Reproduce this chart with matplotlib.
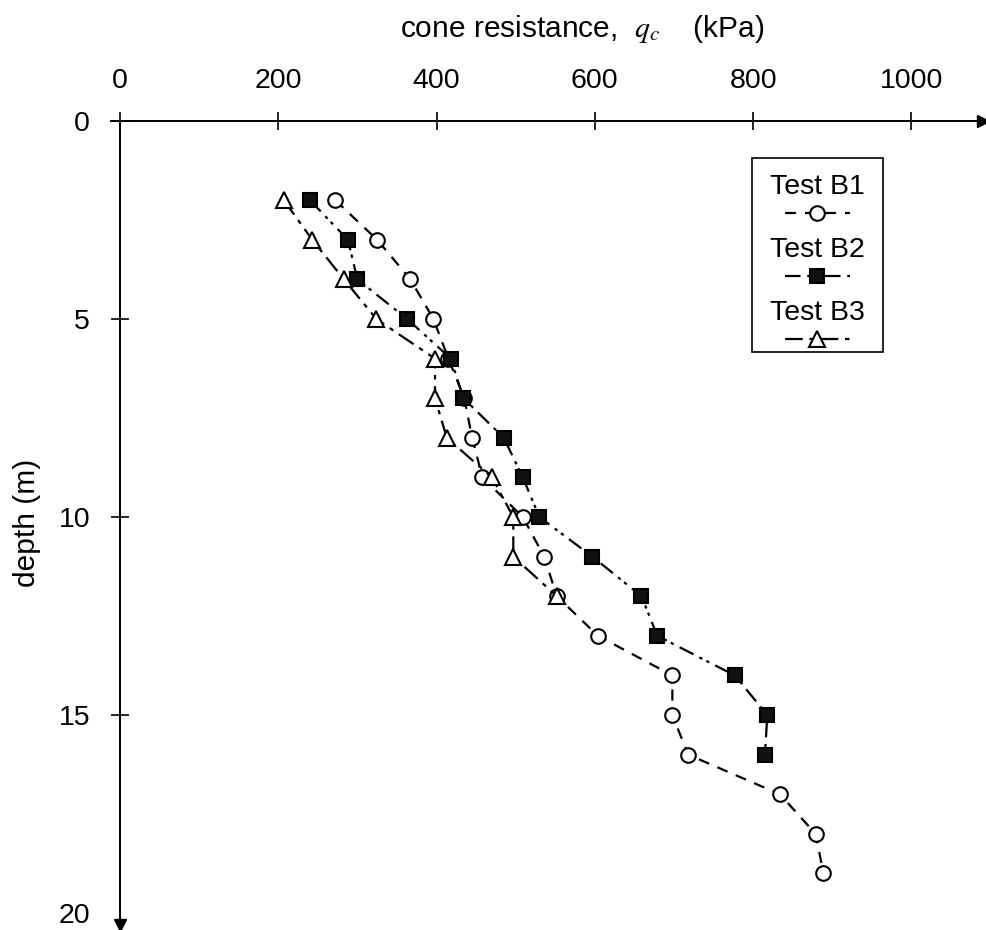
import matplotlib
matplotlib.use('Agg')
import matplotlib.pyplot as plt
from matplotlib.lines import Line2D
from matplotlib.patches import Rectangle

plt.rcParams['font.family'] = ['Liberation Sans', 'DejaVu Sans']
plt.rcParams['mathtext.fontset'] = 'stix'

# Dados: resistência de cone (kPa) por profundidade (m)
depth_b1 = [2, 3, 4, 5, 6, 7, 8, 9, 10, 11, 12, 13, 14, 15, 16, 17, 18, 19]
qc_b1 = [272, 325, 367, 396, 415, 435, 445, 458, 509, 536, 552, 604, 698, 698, 718, 834, 879, 889]

depth_b2 = [2, 3, 4, 5, 6, 7, 8, 9, 10, 11, 12, 13, 14, 15, 16]
qc_b2 = [240, 288, 300, 363, 418, 434, 485, 509, 530, 597, 659, 679, 777, 818, 815]

depth_b3 = [2, 3, 4, 5, 6, 7, 8, 9, 10, 11, 12]
qc_b3 = [207, 243, 283, 324, 398, 398, 413, 470, 497, 497, 552]

labels = ['Test B1', 'Test B2', 'Test B3']
x_ticks = [0, 200, 400, 600, 800, 1000]
y_ticks = [0, 5, 10, 15, 20]

styles = [
    dict(linestyle=(0, (5, 4)), marker='o', markerfacecolor='white', markersize=10.5),
    dict(linestyle=(0, (7, 3, 1.5, 2, 1.5, 3)), marker='s', markerfacecolor='#111111', markersize=10),
    dict(linestyle=(0, (8, 3, 2, 3)), marker='^', markerfacecolor='white', markersize=12),
]

fig = plt.figure(figsize=(9.86, 9.30), dpi=100)
ax = fig.add_axes([0.1121, 0.0054, 0.8844, 0.8645])

series = [(qc_b1, depth_b1), (qc_b2, depth_b2), (qc_b3, depth_b3)]
for (qc, dep), st, lab in zip(series, styles, labels):
    ax.plot(qc, dep, color='black', linewidth=1.6, markeredgecolor='black',
            markeredgewidth=1.5, label=lab, clip_on=False, **st)

ax.set_xlim(-12, 1090)
ax.set_ylim(20.3, 0)

# Eixos com setas
ax.spines['right'].set_visible(False)
ax.spines['bottom'].set_visible(False)
ax.spines['left'].set_position(('data', 0))
for s in ['top', 'left']:
    ax.spines[s].set_linewidth(1.4)
ax.plot(1, 0, '>k', markersize=8, transform=ax.get_yaxis_transform(), clip_on=False)
ax.plot(0, 0, 'vk', markersize=8, transform=ax.get_xaxis_transform(), clip_on=False)

ax.xaxis.tick_top()
ax.set_xticks(x_ticks)
ax.set_yticks(y_ticks)
ax.tick_params(axis='both', direction='inout', length=13, width=1.2, labelsize=20.5)
ax.tick_params(axis='x', pad=13)
ax.tick_params(axis='y', pad=15)
# sem traço no 20 (só a seta)
ax.yaxis.get_major_ticks()[-1].tick1line.set_visible(False)

fig.text(0.590, 0.960, r'cone resistance,  $q_c$    (kPa)', fontsize=21.5,
         ha='center', va='baseline')
fig.text(0.0274, 0.4376, 'depth (m)', fontsize=21.5, rotation=90, ha='center', va='center')

# Legenda com o texto acima da amostra de linha
fw, fh = 986.0, 930.0
fig.patches.append(Rectangle((752 / fw, 1 - 352 / fh), 131 / fw, 194 / fh,
                             transform=fig.transFigure, fill=False,
                             edgecolor='black', linewidth=1.2))
for i, (st, lab) in enumerate(zip(styles, labels)):
    ty = 187 + i * 63
    ly = ty + 26
    fig.text(817 / fw, 1 - ty / fh, lab, fontsize=20.5, ha='center', va='center')
    fig.lines.append(Line2D([785 / fw, 850 / fw], [1 - ly / fh, 1 - ly / fh],
                            transform=fig.transFigure, color='black', linewidth=1.6,
                            linestyle=st['linestyle']))
    fig.lines.append(Line2D([817 / fw], [1 - ly / fh], transform=fig.transFigure,
                            color='black', marker=st['marker'], markersize=st['markersize'],
                            markerfacecolor=st['markerfacecolor'], markeredgecolor='black',
                            markeredgewidth=1.5, linestyle='none'))

fig.savefig('out.png', dpi=100)
